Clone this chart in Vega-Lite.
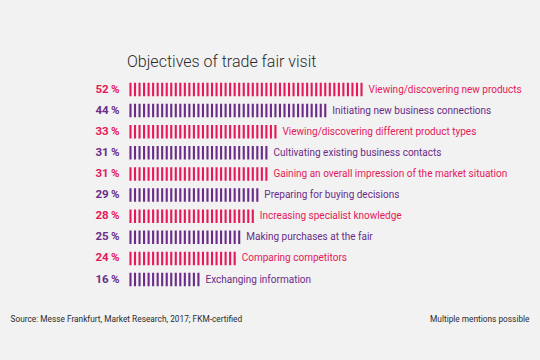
{
  "$schema": "https://vega.github.io/schema/vega-lite/v6.json",
  "width": 540,
  "height": 360,
  "autosize": "none",
  "padding": 0,
  "background": "#f2f2f2",
  "config": {"view": {"stroke": null}, "font": "Roboto"},
  "title": {
    "text": "Objectives of trade fair visit",
    "anchor": "start",
    "frame": "group",
    "orient": "top",
    "offset": 0,
    "baseline": "alphabetic",
    "dx": 127,
    "dy": 83,
    "font": "Roboto",
    "fontSize": 16,
    "fontWeight": 300,
    "color": "#2a2a2a"
  },
  "data": {
    "values": [
      {"label": "Viewing/discovering new products", "value": 52, "group": "pink"},
      {"label": "Initiating new business connections", "value": 44, "group": "purple"},
      {"label": "Viewing/discovering different product types", "value": 33, "group": "pink"},
      {"label": "Cultivating existing business contacts", "value": 31, "group": "purple"},
      {"label": "Gaining an overall impression of the market situation", "value": 31, "group": "pink"},
      {"label": "Preparing for buying decisions", "value": 29, "group": "purple"},
      {"label": "Increasing specialist knowledge", "value": 28, "group": "pink"},
      {"label": "Making purchases at the fair", "value": 25, "group": "purple"},
      {"label": "Comparing competitors", "value": 24, "group": "pink"},
      {"label": "Exchanging information", "value": 16, "group": "purple"}
    ]
  },
  "transform": [{"calculate": "datum.value + '\u2009%'", "as": "pct"}],
  "encoding": {
    "y": {
      "field": "label",
      "type": "nominal",
      "sort": null,
      "scale": {"type": "point", "range": [89.5, 279.5], "padding": 0},
      "axis": {
        "orient": "right",
        "labels": false,
        "ticks": false,
        "domain": false,
        "grid": false,
        "title": "Multiple mentions possible",
        "titleAngle": 0,
        "titleAlign": "right",
        "titleBaseline": "alphabetic",
        "titleX": -11,
        "titleY": 321.5,
        "titleFont": "Roboto",
        "titleFontSize": 8.3,
        "titleFontWeight": 400,
        "titleColor": "#2a2a2a"
      }
    }
  },
  "layer": [
    {
      "mark": {"type": "rule", "strokeWidth": 13.5, "strokeDash": [2.1, 2.43], "strokeCap": "butt"},
      "encoding": {
        "x": {
          "field": "value",
          "type": "quantitative",
          "scale": {"domain": [-28.035, 91.17], "nice": false, "zero": false},
          "axis": {
            "orient": "bottom",
            "labels": false,
            "ticks": false,
            "domain": false,
            "grid": false,
            "title": "Source: Messe Frankfurt, Market Research, 2017; FKM-certified",
            "titleAnchor": "start",
            "titleAlign": "left",
            "titleBaseline": "alphabetic",
            "titleX": 10,
            "titleY": -38.5,
            "titleFont": "Roboto",
            "titleFontSize": 8.3,
            "titleFontWeight": 400,
            "titleColor": "#2a2a2a"
          }
        },
        "x2": {"datum": 0},
        "color": {
          "field": "group",
          "type": "nominal",
          "scale": {"domain": ["pink", "purple"], "range": ["#e5195a", "#6a2c88"]},
          "legend": null
        }
      }
    },
    {
      "mark": {"type": "text", "align": "right", "baseline": "middle", "dx": -7.5, "fontSize": 11.5, "fontWeight": "bold", "font": "Roboto"},
      "encoding": {
        "x": {"datum": 0},
        "text": {"field": "pct"},
        "color": {"field": "group", "type": "nominal", "scale": {"domain": ["pink", "purple"], "range": ["#e5195a", "#6a2c88"]}, "legend": null}
      }
    },
    {
      "mark": {"type": "text", "align": "left", "baseline": "middle", "dx": 6, "fontSize": 10, "font": "Roboto"},
      "encoding": {
        "x": {"field": "value", "type": "quantitative"},
        "text": {"field": "label"},
        "color": {"field": "group", "type": "nominal", "scale": {"domain": ["pink", "purple"], "range": ["#e34f7c", "#7a4c99"]}, "legend": null}
      }
    }
  ]
}
